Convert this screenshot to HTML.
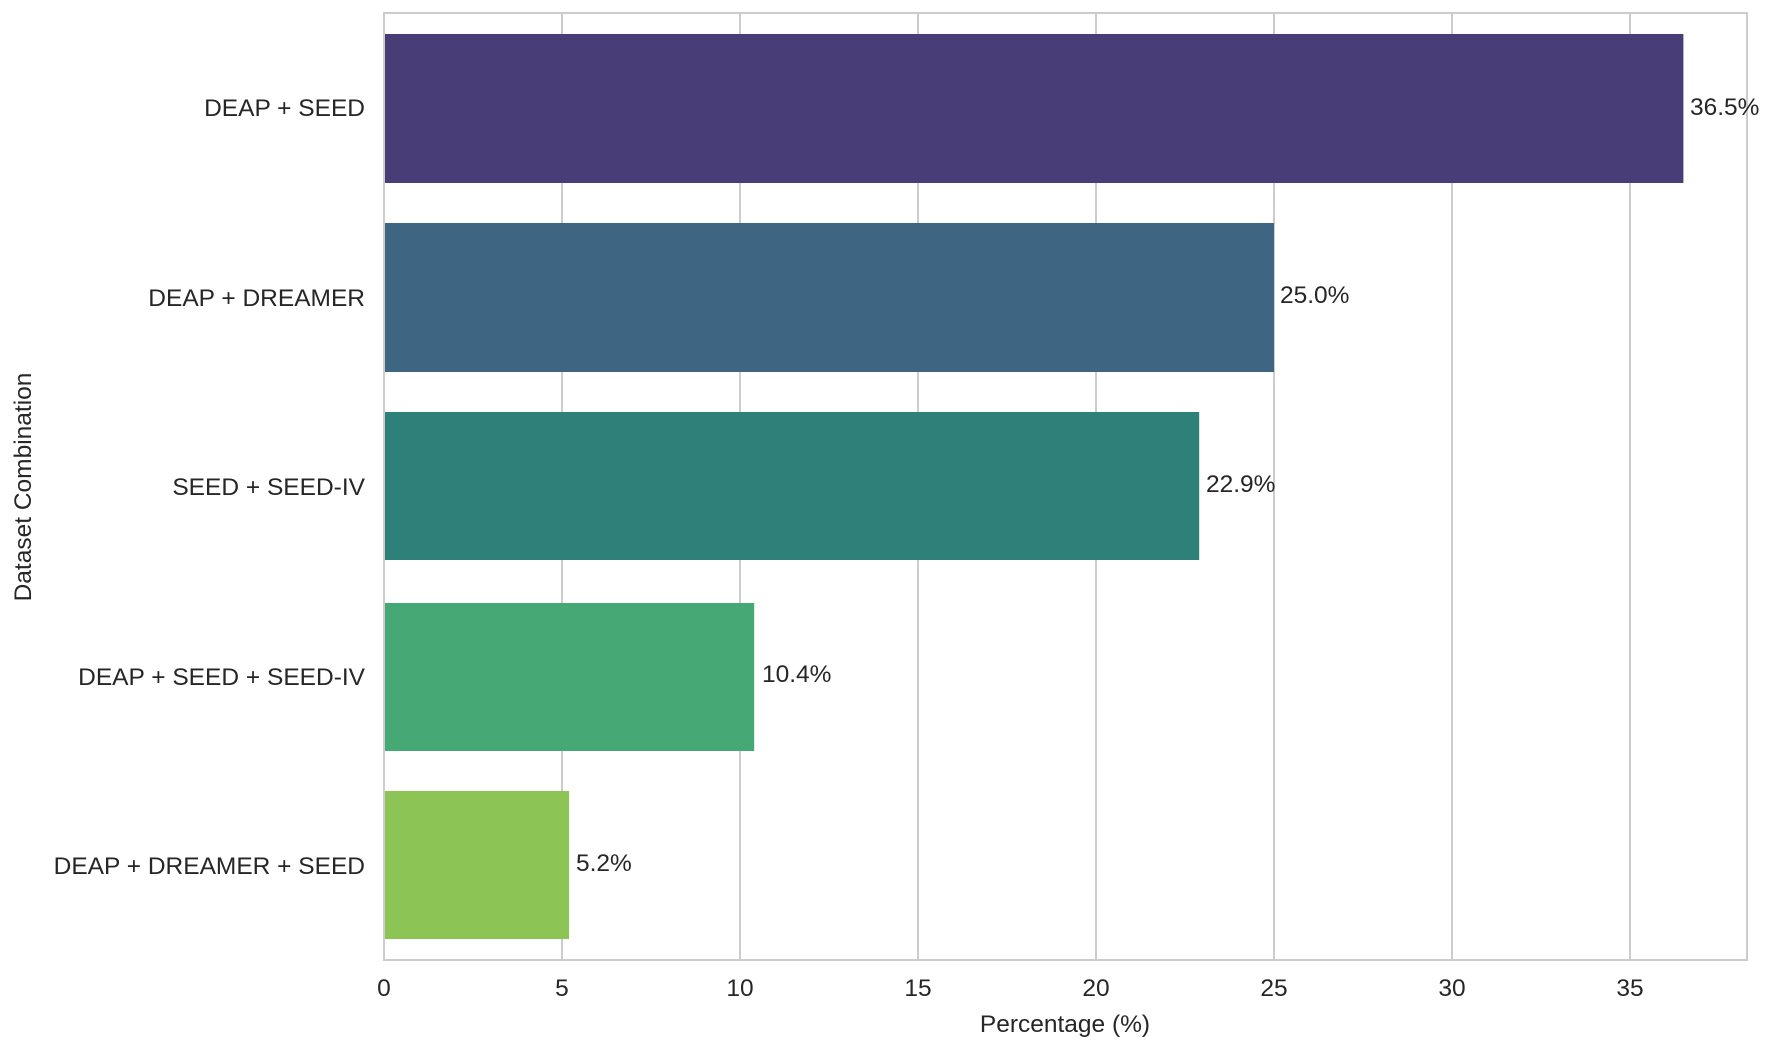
<!DOCTYPE html>
<html><head><meta charset="utf-8"><style>
html,body{margin:0;padding:0;background:#fff;}
svg{display:block;font-family:"Liberation Sans",Arial,sans-serif;}
</style></head><body>
<svg width="1770" height="1050" viewBox="0 0 1770 1050" xmlns="http://www.w3.org/2000/svg">
<rect width="1770" height="1050" fill="#fff"/>
<g stroke="#cccccc" stroke-width="2">
<line x1="562" y1="13" x2="562" y2="960"/>
<line x1="740" y1="13" x2="740" y2="960"/>
<line x1="918" y1="13" x2="918" y2="960"/>
<line x1="1096" y1="13" x2="1096" y2="960"/>
<line x1="1274" y1="13" x2="1274" y2="960"/>
<line x1="1452" y1="13" x2="1452" y2="960"/>
<line x1="1630" y1="13" x2="1630" y2="960"/>
</g>
<rect x="384" y="34" width="1299.4" height="149" fill="#483d77"/>
<rect x="384" y="223" width="890" height="149" fill="#3e6683"/>
<rect x="384" y="412" width="815.2" height="148" fill="#2e8179"/>
<rect x="384" y="603" width="370.2" height="148" fill="#46a874"/>
<rect x="384" y="791" width="185.1" height="148" fill="#8cc455"/>
<rect x="384" y="13" width="1363" height="947" fill="none" stroke="#cccccc" stroke-width="2"/>
<g font-size="24.5" fill="#262626" text-anchor="end">
<text x="365" y="116">DEAP + SEED</text>
<text x="365" y="306">DEAP + DREAMER</text>
<text x="365" y="495">SEED + SEED-IV</text>
<text x="365" y="685">DEAP + SEED + SEED-IV</text>
<text x="365" y="874">DEAP + DREAMER + SEED</text>
</g>
<g font-size="24.5" fill="#262626">
<text x="1690" y="115">36.5%</text>
<text x="1280" y="303">25.0%</text>
<text x="1206" y="492">22.9%</text>
<text x="762" y="682">10.4%</text>
<text x="576" y="871">5.2%</text>
</g>
<g font-size="24.5" fill="#262626" text-anchor="middle">
<text x="384" y="996">0</text>
<text x="562" y="996">5</text>
<text x="740" y="996">10</text>
<text x="918" y="996">15</text>
<text x="1096" y="996">20</text>
<text x="1274" y="996">25</text>
<text x="1452" y="996">30</text>
<text x="1630" y="996">35</text>
<text x="1065" y="1032">Percentage (%)</text>
<text transform="translate(31,487) rotate(-90)">Dataset Combination</text>
</g>
</svg>
</body></html>
